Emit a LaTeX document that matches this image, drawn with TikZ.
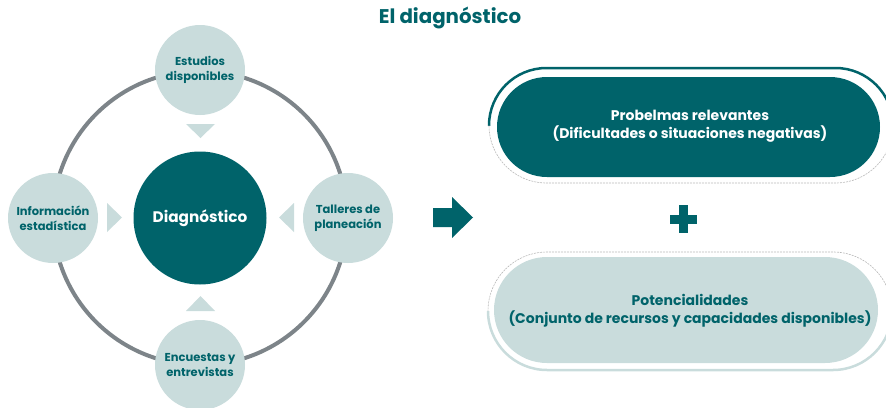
\documentclass[tikz,border=0pt]{standalone}
\usepackage{fontspec}
\setmainfont{Poppins}
\definecolor{teal}{HTML}{00636A}
\definecolor{lightc}{HTML}{C9DCDC}
\definecolor{ringc}{HTML}{7D8489}
\definecolor{dashc}{HTML}{B8B8B8}
\tikzset{
  smallcirc/.style={circle, fill=lightc, minimum size=90pt, inner sep=0pt, align=center, text=teal, font=\fontsize{11.5}{15}\selectfont\bfseries},
  tri/.style={fill=lightc},
  pilltext/.style={align=center, font=\fontsize{14}{18}\selectfont\bfseries},
}
\begin{document}
\begin{tikzpicture}[x=1pt,y=-1pt]
\useasboundingbox (0,0) rectangle (886,407);
\clip (0,0) rectangle (886,407);
% title
\node[text=teal, font=\fontsize{19.8}{21}\selectfont\bfseries] (title) at (450,18) {El diagnóstico};
% ring
\draw[ringc, line width=4pt] (200,218) circle[radius=147];
% circles
\node[smallcirc] (est) at (200,70) {Estudios\\disponibles};
\node[smallcirc] (inf) at (53,218) {Información\\estadística};
\node[smallcirc] (tal) at (348,218) {Talleres de\\planeación};
\node[smallcirc] (enc) at (200,365) {Encuestas y\\entrevistas};
\node[circle, fill=teal, minimum size=133pt, inner sep=0pt, text=white, font=\fontsize{15.3}{17}\selectfont\bfseries] (diag) at (200,218) {Diagnóstico};
% triangles
\fill[tri] (186,124) -- (215,124) -- (200.5,138) -- cycle;
\fill[tri] (186,311) -- (215,311) -- (200.5,296) -- cycle;
\fill[tri] (107,203) -- (107,232) -- (122,217.5) -- cycle;
\fill[tri] (294,203) -- (294,232) -- (279,217.5) -- cycle;
% arrow
\fill[teal] (433,208) -- (452,208) -- (452,197) -- (473,217.5) -- (452,238) -- (452,227) -- (433,227) -- cycle;
% plus
\fill[teal] (670,214.5) rectangle (697,223.5);
\fill[teal] (679,205) rectangle (688,233);
% top pill
\begin{scope}
\clip (480,0) rectangle (886,125.5);
\draw[teal, line width=2.5pt, rounded corners=57.5pt] (489,68) rectangle (893,183);
\end{scope}
\begin{scope}
\clip (480,125.5) rectangle (886,200);
\draw[dashc, line width=0.6pt, dash pattern=on 2pt off 1pt, rounded corners=57.5pt] (489,68) rectangle (893,183);
\end{scope}
\fill[teal, rounded corners=50pt] (497,77) rectangle (880,177);
\node[pilltext, text=white] (prob) at (690,126) {Probelmas relevantes\\(Dificultades o situaciones negativas)};
% bottom pill
\begin{scope}
\clip (480,240) rectangle (886,311);
\draw[dashc, line width=0.6pt, dash pattern=on 2pt off 1pt, rounded corners=59pt] (488,252) rectangle (892,370);
\end{scope}
\begin{scope}
\clip (480,311) rectangle (886,407);
\draw[lightc, line width=2.5pt, rounded corners=59pt] (488,252) rectangle (892,370);
\end{scope}
\fill[lightc, rounded corners=53pt] (494,257) rectangle (878,363);
\node[pilltext, text=teal] (pot) at (690,311) {Potencialidades\\(Conjunto de recursos y capacidades disponibles)};
\end{tikzpicture}
\end{document}
